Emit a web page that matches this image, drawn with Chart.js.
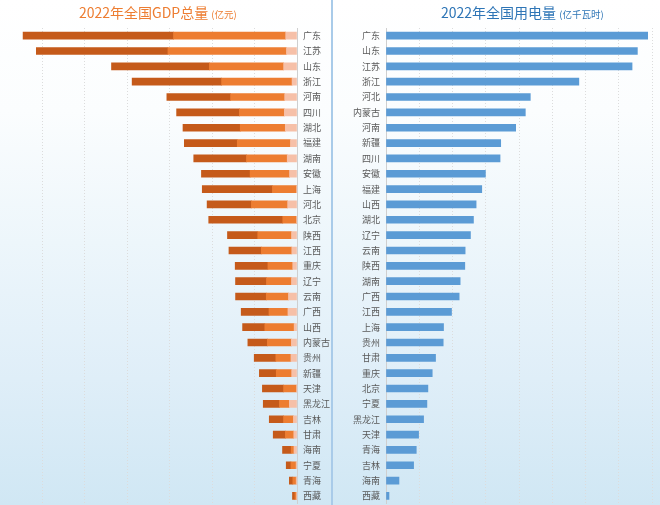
<!DOCTYPE html>
<html><head><meta charset="utf-8">
<script src="https://cdn.jsdelivr.net/npm/chart.js@4"></script>
<style>
html,body{margin:0;padding:0;}
body{width:660px;height:505px;position:relative;overflow:hidden;
background:linear-gradient(to bottom,#ffffff 0%,#fbfdfe 22%,#edf6fb 48%,#dfeef8 75%,#d0e7f4 100%);
font-family:"Noto Sans CJK SC","Noto Sans",sans-serif;}
canvas{position:absolute;top:0;}
#left{left:0;}
#right{left:333px;}
.title{position:absolute;top:2px;line-height:20px;white-space:nowrap;font-size:14px;}
.title small{font-size:9.5px;}
#divider{position:absolute;left:331px;top:0;width:2px;height:505px;background:#a9cbe9;}
</style></head><body>
<div id="divider"></div>
<canvas id="left" width="332" height="515"></canvas>
<canvas id="right" width="327" height="515"></canvas>
<div class="title" style="left:79px;color:#ED7D31">2022年全国GDP总量 <small>(亿元)</small></div>
<div class="title" style="left:441px;color:#2E75B6">2022年全国用电量 <small>(亿千瓦时)</small></div>
<script>
// GDP 2022 (亿元)
const gdpProvinces = ['广东','江苏','山东','浙江','河南','四川','湖北','福建','湖南','安徽','上海','河北','北京','陕西','江西','重庆','辽宁','云南','广西','山西','内蒙古','贵州','新疆','天津','黑龙江','吉林','甘肃','海南','宁夏','青海','西藏'];
const primaryIndustry = [5340,4959,6299,2325,5818,5965,5514,3077,4603,3513,97,4410,112,2575,2451,2012,2597,4012,4270,1340,2654,2861,2509,273,3609,1689,1515,1418,408,381,180];
const secondaryIndustry = [52843,55889,35014,33205,25465,21157,21241,25078,19183,18588,11458,17050,6605,15934,14360,11694,11755,10471,8939,13840,11284,7113,7272,6039,4648,4628,3945,1310,2450,1585,789];
const tertiaryIndustry = [70934,62028,46122,42185,30062,29628,26980,24955,24884,22944,33097,20910,34894,14264,15264,15423,14623,14471,13092,10463,9221,10191,7960,9999,7644,6753,5742,4090,2212,1644,1164];

// Electricity 2022 (亿千瓦时)
const elecProvinces = ['广东','山东','江苏','浙江','河北','内蒙古','河南','新疆','四川','安徽','福建','山西','湖北','辽宁','云南','陕西','湖南','广西','江西','上海','贵州','甘肃','重庆','北京','宁夏','黑龙江','天津','青海','吉林','海南','西藏'];
const elecValues = [7870,7560,7400,5800,4340,4190,3900,3450,3430,2990,2880,2710,2630,2540,2380,2370,2230,2200,1970,1730,1720,1490,1390,1260,1230,1130,980,910,830,390,90];

const gdpMax = 140000, gdpStep = 20000;
const elecMax = 8000, elecStep = 1000;

const labelFont = {size:9, family:'"Noto Sans CJK SC","Noto Sans",sans-serif'};
const gridColorFn = (max) => (c) => (c.tick && (c.tick.value === 0 || (max && c.tick.value === max))) ? 'rgba(0,0,0,0)' : '#dcdcdc';

new Chart(document.getElementById('left'), {
  type:'bar',
  data:{labels:gdpProvinces, datasets:[
    {label:'第一产业', data:primaryIndustry, backgroundColor:'#F6C0A8'},
    {label:'第二产业', data:secondaryIndustry, backgroundColor:'#ED7D31'},
    {label:'第三产业', data:tertiaryIndustry, backgroundColor:'#C55A1A'}
  ]},
  options:{
    indexAxis:'y', responsive:false, animation:false,
    layout:{padding:{top:28,bottom:2,left:0,right:0}},
    plugins:{legend:{display:false}, tooltip:{enabled:false}},
    datasets:{bar:{barThickness:7, borderWidth:0}},
    scales:{
      x:{stacked:true, reverse:true, min:0, max:gdpMax,
         ticks:{display:false, stepSize:gdpStep},
         grid:{drawTicks:false, color:gridColorFn(gdpMax), lineWidth:1},
         border:{display:false, dash:[1,2]},
         afterFit:(a)=>{a.height=0;}},
      y:{stacked:true, position:'right',
         grid:{display:false, drawTicks:false},
         border:{display:true, color:'#cfcfcf'},
         ticks:{padding:6, color:'#595959', font:labelFont},
         afterFit:(a)=>{a.width=35;}}
    }
  }
});

new Chart(document.getElementById('right'), {
  type:'bar',
  data:{labels:elecProvinces, datasets:[
    {label:'用电量', data:elecValues, backgroundColor:'#5B9BD5'}
  ]},
  options:{
    indexAxis:'y', responsive:false, animation:false,
    layout:{padding:{top:28,bottom:2,left:0,right:8}},
    plugins:{legend:{display:false}, tooltip:{enabled:false}},
    datasets:{bar:{barThickness:7, borderWidth:0}},
    scales:{
      x:{min:0, max:elecMax,
         ticks:{display:false, stepSize:elecStep},
         grid:{drawTicks:false, color:gridColorFn(0), lineWidth:1},
         border:{display:false, dash:[1,2]},
         afterFit:(a)=>{a.height=0;}},
      y:{position:'left',
         grid:{display:false, drawTicks:false},
         border:{display:true, color:'#cfcfcf'},
         ticks:{padding:6, color:'#595959', font:labelFont},
         afterFit:(a)=>{a.width=53;}}
    }
  }
});
</script>
</body></html>
